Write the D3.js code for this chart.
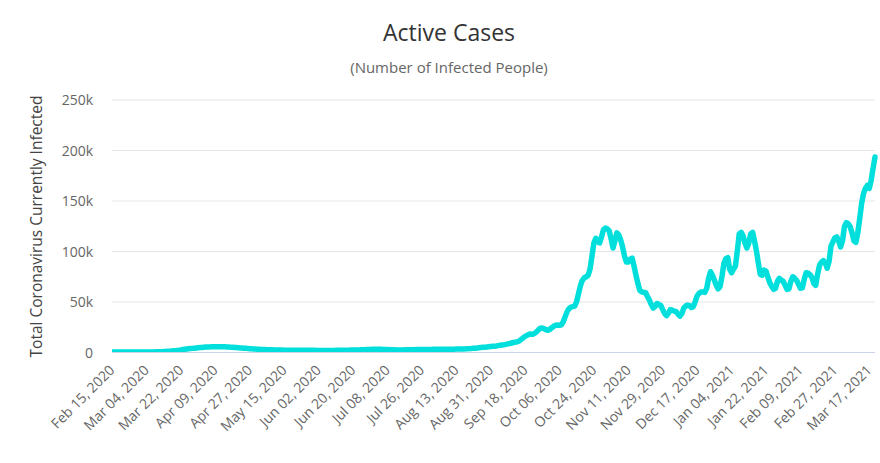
<!DOCTYPE html>
<html>
<head>
<meta charset="utf-8">
<script src="https://cdn.jsdelivr.net/npm/d3@7"></script>
<style>
  html, body { margin: 0; padding: 0; background: #ffffff; }
  svg { display: block; font-family: "Open Sans", "DejaVu Sans", sans-serif; }
</style>
</head>
<body>
<svg id="chart" width="880" height="463"></svg>
<script>
// ---- data ----
const startDate = "Feb 15, 2020";
const tickLabels = ["Feb 15, 2020","Mar 04, 2020","Mar 22, 2020","Apr 09, 2020","Apr 27, 2020","May 15, 2020","Jun 02, 2020","Jun 20, 2020","Jul 08, 2020","Jul 26, 2020","Aug 13, 2020","Aug 31, 2020","Sep 18, 2020","Oct 06, 2020","Oct 24, 2020","Nov 11, 2020","Nov 29, 2020","Dec 17, 2020","Jan 04, 2021","Jan 22, 2021","Feb 09, 2021","Feb 27, 2021","Mar 17, 2021"];
const yTicks = [0, 50000, 100000, 150000, 200000, 250000];
const yTickLabels = ["0", "50k", "100k", "150k", "200k", "250k"];
// Active cases, one value per day from Feb 15, 2020
const activeCases = [
  0,0,0,0,0,0,0,0,0,0,0,0,0,0,0,
  0,0,10,20,30,50,80,110,150,200,260,330,420,520,
  650,800,950,1150,1350,1600,1850,2100,2400,2650,2900,3150,
  3400,3600,3800,4000,4200,4400,4550,4700,4850,4950,5050,5150,5200,5250,5300,
  5280,5250,5200,5100,5000,4900,4800,4650,4500,4350,4200,4050,3900,3750,3600,
  3450,3300,3150,3000,2900,2800,2700,2600,2500,2400,2300,2250,2200,2150,2100,2050,2000,1950,1900,1850,1800,
  1780,1760,1740,1720,1700,1690,1680,1670,1660,1650,1640,1630,1620,1620,1610,1600,1600,1600,1590,1590,
  1580,1580,1580,1590,1600,1620,1640,1660,1680,1700,1750,1800,1850,1900,1950,2000,2050,2100,2150,
  2200,2300,2400,2500,2600,2700,2750,2800,2800,2750,2700,2600,2500,2400,2300,2250,2200,2150,2100,2100,
  2100,2100,2120,2150,2200,2250,2300,2350,2400,2450,2500,2500,2500,2520,2540,2560,2580,2600,2620,2640,
  2660,2680,2700,2720,2740,2760,2780,2800,2830,2860,2900,2950,3000,3050,3100,
  3200,3350,3500,3650,3800,4000,4200,4400,4600,4800,5000,5200,5400,5600,5800,6000,6300,6600,6900,7200,
  7600,8000,8400,8900,9400,
  9800,10200,11000,12500,14000,15500,16500,17500,17800,17500,18500,20000,22000,23500,
  23800,23000,22000,21500,22500,24000,25500,26500,26800,26500,27000,30000,35000,40000,43000,44500,
  45000,45500,50000,58000,66000,71000,73500,74500,76000,82000,95000,108000,112500,109000,108000,
  114000,121000,122700,122000,120000,112000,103000,110000,118000,116000,111000,104000,95000,89000,
  89000,92000,93000,85000,76000,68000,61000,59500,59000,59000,55000,51500,47000,43500,45000,48000,
  47000,46000,42000,38000,36000,38500,42000,41500,40500,40000,37500,35500,38000,43500,45500,46500,
  46000,44000,45000,50000,55500,58000,59500,59500,59000,63000,73000,79500,76000,71000,66000,62500,
  65000,75000,88000,92500,93500,82000,78500,82000,85000,100000,117000,118500,115000,108000,103000,
  108000,117000,118500,110000,100000,88000,77000,76000,81000,80000,74000,68500,65000,62000,63000,
  70000,73000,71000,70000,66000,62000,62500,70000,74500,73000,71000,67000,63200,63500,72000,78500,
  78000,76500,74000,68000,66000,77000,86000,89000,90500,88000,83000,90000,105000,109000,113000,
  114000,110000,104000,110000,124000,128000,127000,124000,118000,110000,108500,118000,132000,147000,
  157000,162000,165000,162000,170000,182000,193000
];

// ---- layout ----
const W = 880, H = 463;
const plot = { left: 112, right: 875, top: 99.5, bottom: 352 };
const svg = d3.select("#chart");

const parse = d3.utcParse("%b %d, %Y");
const start = parse(startDate);
const dates = activeCases.map((_, i) => d3.utcDay.offset(start, i));
const series = activeCases.map((v, i) => ({ date: dates[i], value: v }));

const x = d3.scaleUtc()
  .domain([dates[0], dates[dates.length - 1]])
  .range([plot.left, plot.right]);
const y = d3.scaleLinear()
  .domain([0, 250000])
  .range([plot.bottom, plot.top]);

// title / subtitle
svg.append("text")
  .attr("x", 449).attr("y", 41)
  .attr("text-anchor", "middle")
  .attr("fill", "#333333")
  .style("font-size", "23px")
  .text("Active Cases");
svg.append("text")
  .attr("x", 449).attr("y", 73)
  .attr("text-anchor", "middle")
  .attr("fill", "#666666")
  .style("font-size", "15px")
  .text("(Number of Infected People)");

// gridlines + y labels
const yAxis = d3.axisLeft(y)
  .tickValues(yTicks)
  .tickSize(-(plot.right - plot.left))
  .tickPadding(19)
  .tickFormat((d, i) => yTickLabels[i]);
const gy = svg.append("g")
  .attr("transform", `translate(${plot.left},0)`)
  .call(yAxis);
gy.select(".domain").remove();
gy.selectAll(".tick line").attr("stroke", "#e6e6e6").attr("stroke-width", 1);
gy.selectAll(".tick").filter(d => d === 0).select("line").remove();
gy.selectAll(".tick text")
  .attr("fill", "#666666")
  .attr("dy", "0.36em")
  .style("font-size", "14px")
  .style("font-family", "'Open Sans', sans-serif");

// y axis title
svg.append("text")
  .attr("transform", `translate(42,${(95 + 358) / 2}) rotate(-90)`)
  .attr("text-anchor", "middle")
  .attr("fill", "#444444")
  .style("font-size", "15.5px")
  .text("Total Coronavirus Currently Infected");

// x axis
const tickDates = tickLabels.map(parse);
const xAxis = d3.axisBottom(x)
  .tickValues(tickDates)
  .tickSize(0)
  .tickPadding(0)
  .tickFormat((d, i) => tickLabels[i]);
const gx = svg.append("g")
  .attr("transform", `translate(0,${plot.bottom})`)
  .call(xAxis);
gx.select(".domain").attr("stroke", "#ccd6eb").attr("stroke-width", 1)
  .attr("d", `M${plot.left},0.5H${plot.right}`);
gx.selectAll(".tick text")
  .attr("fill", "#666666")
  .attr("text-anchor", "end")
  .attr("dy", null)
  .attr("y", 0)
  .attr("transform", "translate(3,19) rotate(-45)")
  .style("font-size", "14px")
  .style("font-family", "'Open Sans', sans-serif");

// clip
svg.append("defs").append("clipPath").attr("id", "plotclip")
  .append("rect")
  .attr("x", plot.left).attr("y", plot.top - 10)
  .attr("width", plot.right - plot.left + 5)
  .attr("height", plot.bottom - plot.top + 10);

// line
const line = d3.line()
  .x(d => x(d.date))
  .y(d => y(d.value));
svg.append("path")
  .datum(series)
  .attr("clip-path", "url(#plotclip)")
  .attr("fill", "none")
  .attr("stroke", "#00dfdb")
  .attr("stroke-width", 5.5)
  .attr("stroke-linejoin", "round")
  .attr("stroke-linecap", "round")
  .attr("d", line);
</script>
</body>
</html>
